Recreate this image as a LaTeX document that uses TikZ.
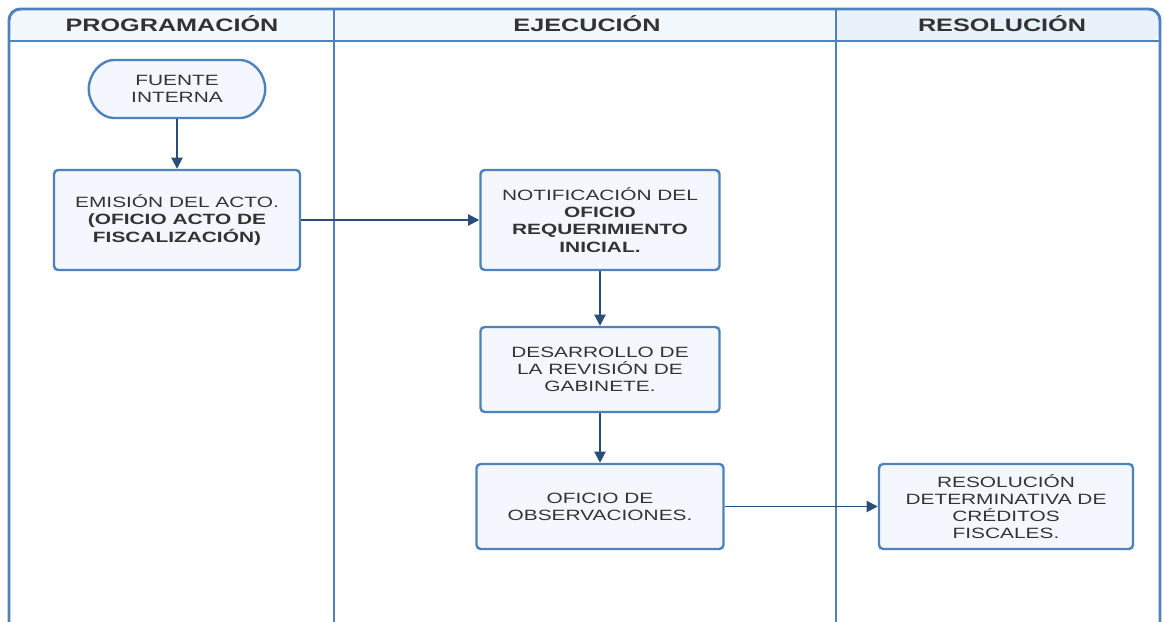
\documentclass[tikz,border=0pt]{standalone}
\usepackage{fontspec}
\setmainfont{Liberation Sans}[FakeStretch=1.4]
\usetikzlibrary{arrows.meta,shapes.misc}
\definecolor{carril}{HTML}{4D82BC}
\definecolor{relleno}{HTML}{F4F8FE}
\definecolor{cabecera}{HTML}{F3F8FD}
\definecolor{cabecerab}{HTML}{E9F1FB}
\definecolor{flecha}{HTML}{2A4E77}
\definecolor{texto}{HTML}{333333}

\begin{document}
\begin{tikzpicture}[x=0.025cm,y=-0.025cm,
    caja/.style={draw=carril,fill=relleno,line width=1.7pt,rounded corners=3pt,align=center,text=texto,font=\fontsize{10.6}{12.2}\selectfont,inner sep=2pt},
    terminal/.style={caja,rounded rectangle,minimum width=4.55cm,minimum height=1.45cm},
    flujo/.style={draw=flecha,line width=1.4pt,-{Triangle[length=8pt,width=8pt]}},
    titulo/.style={font=\bfseries\fontsize{12.8}{14}\selectfont,text=texto}]
    \useasboundingbox (0,0) rectangle (1164,622);
    \fill[cabecera,rounded corners=8pt] (9,41) -- (9,9) -- (1160,9) -- (1160,41) -- cycle;
    \fill[cabecerab,rounded corners=8pt] (836,41) -- (836,9) -- (1160,9) -- (1160,41) -- cycle;
    \fill[cabecerab] (836,9) rectangle (1000,41);
    \draw[carril,line width=2.1pt,rounded corners=8pt] (9,622) -- (9,9) -- (1160,9) -- (1160,622);
    \draw[carril,line width=2.1pt] (9,41) -- (1160,41) (334,9) -- (334,622) (836,9) -- (836,622);
    \node[titulo] (programacion) at (172,24) {PROGRAMACIÓN};
    \node[titulo] (ejecucion) at (587,24) {EJECUCIÓN};
    \node[titulo] (resolucion) at (1002,24) {RESOLUCIÓN};
    \node[terminal] (fuente) at (177,89) {FUENTE\\INTERNA};
    \node[caja,minimum width=6.15cm,minimum height=2.5cm] (emision) at (177,220) {EMISIÓN DEL ACTO.\\\textbf{(OFICIO ACTO DE}\\\textbf{FISCALIZACIÓN)}};
    \node[caja,minimum width=5.975cm,minimum height=2.5cm] (notificacion) at (600,220) {NOTIFICACIÓN DEL\\\textbf{OFICIO}\\\textbf{REQUERIMIENTO}\\\textbf{INICIAL.}};
    \node[caja,minimum width=5.975cm,minimum height=2.125cm] (desarrollo) at (600,369.5) {DESARROLLO DE\\LA REVISIÓN DE\\GABINETE.};
    \node[caja,minimum width=6.175cm,minimum height=2.125cm] (observaciones) at (600,506.5) {OFICIO DE\\OBSERVACIONES.};
    \node[caja,minimum width=6.35cm,minimum height=2.125cm] (determinativa) at (1006,506.5) {RESOLUCIÓN\\DETERMINATIVA DE\\CRÉDITOS\\FISCALES.};
    \draw[flujo] (fuente) -- (emision);
    \draw[flujo] (emision) -- (notificacion);
    \draw[flujo] (notificacion) -- (desarrollo);
    \draw[flujo] (desarrollo) -- (observaciones);
    \draw[flujo] (observaciones) -- (determinativa);
\end{tikzpicture}
\end{document}
